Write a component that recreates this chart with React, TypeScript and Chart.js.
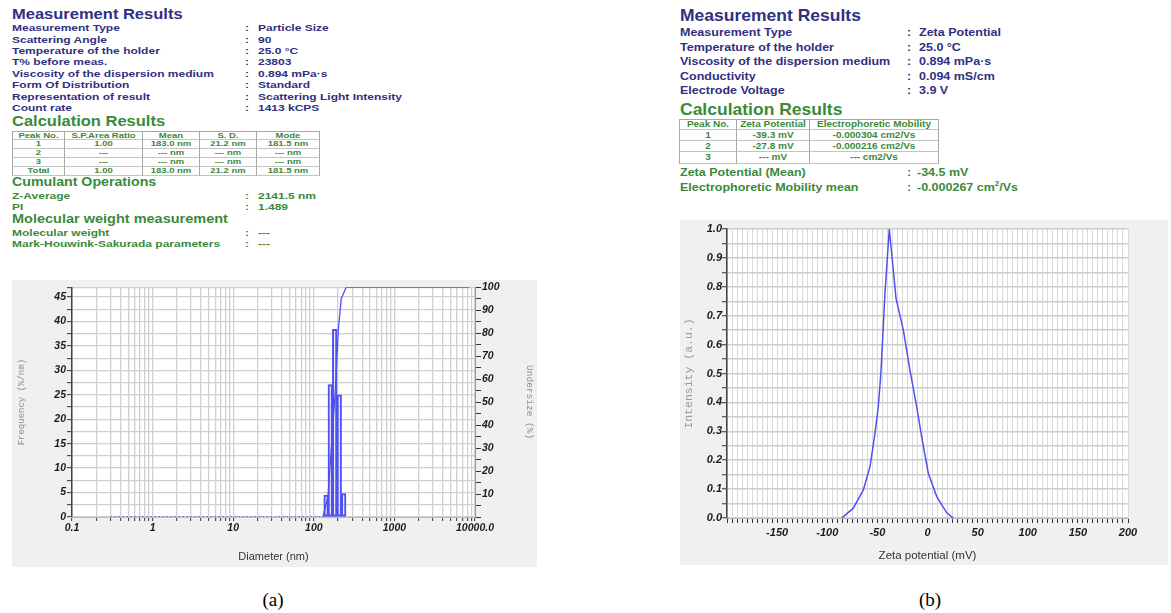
import React, { useEffect, useRef } from "react";
import { Chart, registerables } from "chart.js";

Chart.register(...registerables);

// ---------- colours ----------
const NAVY = "#30307f";
const GREEN = "#3a8a3a";
const BLUE = "rgb(80,80,240)";
const GRID = "#cfcfcf";

// ---------- particle size text ----------
const psLabels = [
  "Measurement Type",
  "Scattering Angle",
  "Temperature of the holder",
  "T% before meas.",
  "Viscosity of the dispersion medium",
  "Form Of Distribution",
  "Representation of result",
  "Count rate",
];
const psValues = [
  "Particle Size",
  "90",
  "25.0 °C",
  "23803",
  "0.894 mPa·s",
  "Standard",
  "Scattering Light Intensity",
  "1413 kCPS",
];
const psTable = [
  ["Peak No.", "S.P.Area Ratio", "Mean", "S. D.", "Mode"],
  ["1", "1.00", "183.0 nm", "21.2 nm", "181.5 nm"],
  ["2", "---", "--- nm", "--- nm", "--- nm"],
  ["3", "---", "--- nm", "--- nm", "--- nm"],
  ["Total", "1.00", "183.0 nm", "21.2 nm", "181.5 nm"],
];
const cumulantLabels = ["Z-Average", "PI"];
const cumulantValues = ["2141.5 nm", "1.489"];
const mwLabels = ["Molecular weight", "Mark-Houwink-Sakurada parameters"];
const mwValues = ["---", "---"];

// ---------- zeta text ----------
const zpLabels = [
  "Measurement Type",
  "Temperature of the holder",
  "Viscosity of the dispersion medium",
  "Conductivity",
  "Electrode Voltage",
];
const zpValues = ["Zeta Potential", "25.0 °C", "0.894 mPa·s", "0.094 mS/cm", "3.9 V"];
const zpTable = [
  ["Peak No.", "Zeta Potential", "Electrophoretic Mobility"],
  ["1", "-39.3 mV", "-0.000304 cm2/Vs"],
  ["2", "-27.8 mV", "-0.000216 cm2/Vs"],
  ["3", "--- mV", "--- cm2/Vs"],
];

// ---------- chart (a) data ----------
const binCenters = [142, 160, 181.5, 207, 235]; // nm
const frequency = [4.5, 27.1, 38.4, 25.0, 4.8]; // %/nm
const undersizeDiam = [0.3, 130, 150, 184, 202, 219, 252, 8500]; // nm
const undersizePct = [0, 0, 9, 54, 82, 95, 100, 100]; // %
const freqAxisMax = 47;
const freqTickValues = [0, 2.5, 5, 7.5, 10, 12.5, 15, 17.5, 20, 22.5, 25, 27.5, 30, 32.5, 35, 37.5, 40, 42.5, 45, 47];

// ---------- chart (b) data ----------
const zetaMv = [-85.6, -74.0, -64.0, -57.4, -52.4, -49.1, -46.5, -42.4, -38.1, -31.4, -24.1, -17.5, -10.8, -5.8, 0.8, 9.2, 19.2, 25.7];
const zetaIntensity = [0, 0.034, 0.097, 0.177, 0.293, 0.385, 0.5, 0.78, 1.0, 0.76, 0.65, 0.512, 0.385, 0.281, 0.155, 0.074, 0.018, 0.0];

const logTickValues: number[] = [];
for (let e = -1; e <= 3; e++) for (let m = 1; m <= 9; m++) logTickValues.push(+(m * Math.pow(10, e)).toPrecision(3));
logTickValues.push(10000);

const whiteArea = {
  id: "whiteArea",
  beforeDraw(chart: any) {
    const { ctx, chartArea: a } = chart;
    ctx.save();
    ctx.fillStyle = "#ffffff";
    ctx.fillRect(a.left, a.top, a.right - a.left, a.bottom - a.top);
    ctx.restore();
  },
};

const tickFontA = { family: "Liberation Sans", size: 10.5, weight: "bold" as const, style: "italic" as const };
const tickFontB = { family: "Liberation Sans", size: 11, weight: "bold" as const, style: "italic" as const };

function T(props: { x: number; y: number; size: number; color: string; sy?: number; children: any; family?: string; weight?: string }) {
  const { x, y, size, color, sy = 1, children, family, weight = "bold" } = props;
  return (
    <div
      style={{
        position: "absolute",
        left: x,
        top: y - size * 0.6,
        height: size * 1.2,
        lineHeight: `${size * 1.2}px`,
        fontSize: size,
        color,
        fontWeight: weight as any,
        fontFamily: family || "'Liberation Sans', Arial, sans-serif",
        whiteSpace: "nowrap",
        transform: `scaleY(${sy})`,
        transformOrigin: "left center",
      }}
    >
      {children}
    </div>
  );
}

function Grid(props: { cols: number[]; rows: number[]; cells: string[][]; size: number; sy: number }) {
  const { cols, rows, cells, size, sy } = props;
  const out: any[] = [];
  for (let i = 0; i < rows.length - 1; i++) {
    for (let j = 0; j < cols.length - 1; j++) {
      out.push(
        <div
          key={i + "-" + j}
          style={{
            position: "absolute",
            left: cols[j],
            top: rows[i],
            width: cols[j + 1] - cols[j],
            height: rows[i + 1] - rows[i],
            boxSizing: "border-box",
            borderRight: "1px solid #a8a8a8",
            borderBottom: "1px solid #c4c4c4",
            borderLeft: j === 0 ? "1px solid #a8a8a8" : undefined,
            borderTop: i === 0 ? "1px solid #a8a8a8" : undefined,
            display: "flex",
            alignItems: "center",
            justifyContent: "center",
            fontSize: size,
            fontWeight: "bold",
            color: GREEN,
            fontFamily: "'Liberation Sans', Arial, sans-serif",
            whiteSpace: "nowrap",
            overflow: "visible",
          }}
        >
          <span style={{ display: "inline-block", transform: `scaleY(${sy})`, lineHeight: 1 }}>{cells[i][j]}</span>
        </div>
      );
    }
  }
  return <>{out}</>;
}

export default function App() {
  const refA = useRef<HTMLCanvasElement>(null);
  const refB = useRef<HTMLCanvasElement>(null);

  useEffect(() => {
    const chartA = new Chart(refA.current as HTMLCanvasElement, {
      type: "line",
      data: {
        datasets: [
          {
            type: "line",
            data: undersizeDiam.map((d, i) => ({ x: d, y: undersizePct[i] })),
            yAxisID: "y1",
            borderColor: BLUE,
            borderWidth: 1.3,
            pointRadius: 0,
            tension: 0,
            segment: {
              borderDash: (ctx: any) => (ctx.p0.parsed.y === 0 && ctx.p1.parsed.y === 0 ? [1.5, 2.5] : undefined),
            },
          } as any,
          {
            type: "bar",
            data: binCenters.map((d, i) => ({ x: d, y: frequency[i] })),
            yAxisID: "y",
            borderColor: BLUE,
            borderWidth: 1.4,
            backgroundColor: "rgba(0,0,0,0)",
            borderSkipped: false,
            barThickness: 4.6,
            grouped: false,
          } as any,
        ],
      },
      options: {
        animation: false,
        responsive: true,
        maintainAspectRatio: false,
        layout: { padding: { top: 6, left: 0, right: 0, bottom: 0 } },
        plugins: { legend: { display: false }, tooltip: { enabled: false } },
        scales: {
          x: {
            type: "logarithmic",
            min: 0.1,
            max: 10000,
            offset: false,
            afterBuildTicks: (s: any) => {
              s.ticks = logTickValues.map((v) => ({ value: v }));
            },
            afterFit: (s: any) => {
              s.height = 50;
            },
            ticks: {
              autoSkip: false,
              maxRotation: 0,
              padding: 1,
              color: "#1a1a1a",
              font: tickFontA,
              callback: (value: any) => {
                const v = Number(value);
                const lg = Math.log10(v);
                if (Math.abs(lg - Math.round(lg)) > 1e-9) return "";
                if (v >= 10000) return "10000.0";
                return v < 1 ? String(v) : String(Math.round(v));
              },
            },
            grid: { color: GRID, lineWidth: 1.3, offset: false, tickColor: "#333", tickLength: 4, tickWidth: 1 },
            border: { color: "#bbbbbb", width: 1 },
            title: {
              display: true,
              text: "Diameter (nm)",
              color: "#333",
              font: { family: "Liberation Sans", size: 11 },
              padding: { top: 0, bottom: 3 },
            },
          } as any,
          y: {
            type: "linear",
            position: "left",
            min: 0,
            max: freqAxisMax,
            afterBuildTicks: (s: any) => {
              s.ticks = freqTickValues.map((v) => ({ value: v }));
            },
            afterFit: (s: any) => {
              s.width = 60;
            },
            ticks: {
              autoSkip: false,
              padding: 1,
              color: "#1a1a1a",
              font: tickFontA,
              callback: (v: any) => (Number(v) % 5 === 0 ? String(v) : ""),
            },
            grid: { color: GRID, lineWidth: 1.3, tickColor: "#333", tickLength: 5, tickWidth: 1 },
            border: { color: "#444", width: 1.5 },
            title: {
              display: true,
              text: "Frequency (%/nm)",
              color: "#8f8f8f",
              font: { family: "Liberation Mono", size: 9 },
              padding: { top: 4, bottom: 0 },
            },
          } as any,
          y1: {
            type: "linear",
            position: "right",
            min: 0,
            max: 100,
            afterFit: (s: any) => {
              s.width = 62;
            },
            ticks: {
              stepSize: 5,
              autoSkip: false,
              padding: 1,
              color: "#1a1a1a",
              font: tickFontA,
              callback: (v: any) => (Number(v) > 0 && Number(v) % 10 === 0 ? String(v) : ""),
            },
            grid: { drawOnChartArea: false, tickColor: "#333", tickLength: 6, tickWidth: 1 },
            border: { color: "#999", width: 1 },
            title: {
              display: true,
              text: "Undersize (%)",
              color: "#8f8f8f",
              font: { family: "Liberation Mono", size: 9.5 },
              padding: { top: 2, bottom: 0 },
            },
          },
        },
      },
      plugins: [whiteArea],
    });

    const chartB = new Chart(refB.current as HTMLCanvasElement, {
      type: "line",
      data: {
        datasets: [
          {
            data: zetaMv.map((m, i) => ({ x: m, y: zetaIntensity[i] })),
            borderColor: BLUE,
            borderWidth: 1.5,
            pointRadius: 0,
            tension: 0,
          },
        ],
      },
      options: {
        animation: false,
        responsive: true,
        maintainAspectRatio: false,
        layout: { padding: { top: 9, left: 0, right: 40, bottom: 0 } },
        plugins: { legend: { display: false }, tooltip: { enabled: false } },
        scales: {
          x: {
            type: "linear",
            min: -200,
            max: 200,
            afterFit: (s: any) => {
              s.height = 47;
            },
            ticks: {
              stepSize: 5,
              autoSkip: false,
              maxRotation: 0,
              padding: 3,
              color: "#1a1a1a",
              font: tickFontB,
              callback: (v: any) => {
                const n = Number(v);
                return n % 50 === 0 && n !== -200 ? String(n) : "";
              },
            },
            grid: { color: "#d9d9d9", lineWidth: 1, tickColor: "#333", tickLength: 5, tickWidth: 1 },
            border: { color: "#bbbbbb", width: 1 },
            title: {
              display: true,
              text: "Zeta potential (mV)",
              color: "#333",
              font: { family: "Liberation Sans", size: 11.5 },
              padding: { top: 0, bottom: 2 },
            },
          },
          y: {
            type: "linear",
            min: 0,
            max: 1,
            afterFit: (s: any) => {
              s.width = 47;
            },
            ticks: {
              stepSize: 0.05,
              autoSkip: false,
              padding: 0,
              color: "#1a1a1a",
              font: tickFontB,
              callback: (v: any) => {
                const n = Number(v) * 10;
                return Math.abs(n - Math.round(n)) < 1e-6 ? (Math.round(n) / 10).toFixed(1) : "";
              },
            },
            grid: { color: "#cdcdcd", lineWidth: 1.5, tickColor: "#333", tickLength: 5, tickWidth: 1 },
            border: { color: "#444", width: 1.5 },
            title: {
              display: true,
              text: "Intensity (a.u.)",
              color: "#9a9a9a",
              font: { family: "Liberation Mono", size: 11.5 },
              padding: { top: 2, bottom: 0 },
            },
          },
        },
      },
      plugins: [whiteArea],
    });

    return () => {
      chartA.destroy();
      chartB.destroy();
    };
  }, []);

  const psY = [28.3, 39.7, 51.1, 62.6, 74.0, 85.4, 96.9, 108.3];
  const zpY = [32.3, 47, 61.7, 76.3, 90.7];
  const cumY = [196, 206.7];
  const mwY = [232.7, 244.3];

  return (
    <div
      style={{
        position: "absolute",
        left: 0,
        top: 0,
        width: 1171,
        height: 613,
        background: "#ffffff",
        overflow: "hidden",
        fontFamily: "'Liberation Sans', Arial, sans-serif",
      }}
    >
      {/* ----- left text block ----- */}
      <T x={12} y={15} size={16.5} color={NAVY} sy={0.85}>Measurement Results</T>
      {psLabels.map((l, i) => (
        <React.Fragment key={"psl" + i}>
          <T x={12} y={psY[i]} size={12} color={NAVY} sy={0.8}>{l}</T>
          <T x={245} y={psY[i]} size={12} color={NAVY} sy={0.8}>:</T>
          <T x={258} y={psY[i]} size={12} color={NAVY} sy={0.8}>{psValues[i]}</T>
        </React.Fragment>
      ))}
      <T x={12} y={122} size={16.5} color={GREEN} sy={0.85}>Calculation Results</T>
      <Grid cols={[12, 65, 143, 200, 257, 320]} rows={[131, 139.5, 148.5, 157.5, 166.5, 175.5]} cells={psTable} size={9.5} sy={0.8} />
      <T x={12} y={183} size={14.2} color={GREEN} sy={0.85}>Cumulant Operations</T>
      {cumulantLabels.map((l, i) => (
        <React.Fragment key={"cl" + i}>
          <T x={12} y={cumY[i]} size={12} color={GREEN} sy={0.8}>{l}</T>
          <T x={245} y={cumY[i]} size={12} color={GREEN} sy={0.8}>:</T>
          <T x={258} y={cumY[i]} size={12} color={GREEN} sy={0.8}>{cumulantValues[i]}</T>
        </React.Fragment>
      ))}
      <T x={12} y={219.5} size={14.5} color={GREEN} sy={0.85}>Molecular weight measurement</T>
      {mwLabels.map((l, i) => (
        <React.Fragment key={"mw" + i}>
          <T x={12} y={mwY[i]} size={12} color={GREEN} sy={0.8}>{l}</T>
          <T x={245} y={mwY[i]} size={12} color={GREEN} sy={0.8}>:</T>
          <T x={258} y={mwY[i]} size={12} color={GREEN} sy={0.8}>{mwValues[i]}</T>
        </React.Fragment>
      ))}

      {/* ----- right text block ----- */}
      <T x={680} y={15.5} size={17.5} color={NAVY} sy={0.95}>Measurement Results</T>
      {zpLabels.map((l, i) => (
        <React.Fragment key={"zpl" + i}>
          <T x={680} y={zpY[i]} size={12.5} color={NAVY} sy={0.93}>{l}</T>
          <T x={907} y={zpY[i]} size={12.5} color={NAVY} sy={0.93}>:</T>
          <T x={919} y={zpY[i]} size={12.5} color={NAVY} sy={0.93}>{zpValues[i]}</T>
        </React.Fragment>
      ))}
      <T x={680} y={109} size={17.5} color={GREEN} sy={0.95}>Calculation Results</T>
      <Grid cols={[679, 737, 810, 939]} rows={[118.5, 130, 141, 152, 163.5]} cells={zpTable} size={10} sy={0.95} />
      <T x={680} y={172} size={12.5} color={GREEN} sy={0.93}>Zeta Potential (Mean)</T>
      <T x={907} y={172} size={12.5} color={GREEN} sy={0.93}>:</T>
      <T x={917} y={172} size={12.5} color={GREEN} sy={0.93}>-34.5 mV</T>
      <T x={680} y={187.5} size={12.5} color={GREEN} sy={0.93}>Electrophoretic Mobility mean</T>
      <T x={907} y={187.5} size={12.5} color={GREEN} sy={0.93}>:</T>
      <T x={917} y={187.5} size={12.5} color={GREEN} sy={0.93}>
        -0.000267 cm<sup style={{ fontSize: 8, verticalAlign: "super", lineHeight: 0 }}>2</sup>/Vs
      </T>

      {/* ----- charts ----- */}
      <div style={{ position: "absolute", left: 12, top: 280, width: 525, height: 287, background: "#f0f0f0" }}>
        <canvas ref={refA} />
      </div>
      <div style={{ position: "absolute", left: 680, top: 220, width: 488, height: 345, background: "#f0f0f0" }}>
        <canvas ref={refB} />
      </div>

      {/* ----- captions ----- */}
      <div style={{ position: "absolute", left: 243, width: 60, top: 588, textAlign: "center", fontFamily: "'Liberation Serif', 'Times New Roman', serif", fontSize: 19, lineHeight: "24px" }}>(a)</div>
      <div style={{ position: "absolute", left: 900, width: 60, top: 588, textAlign: "center", fontFamily: "'Liberation Serif', 'Times New Roman', serif", fontSize: 19, lineHeight: "24px" }}>(b)</div>
    </div>
  );
}
